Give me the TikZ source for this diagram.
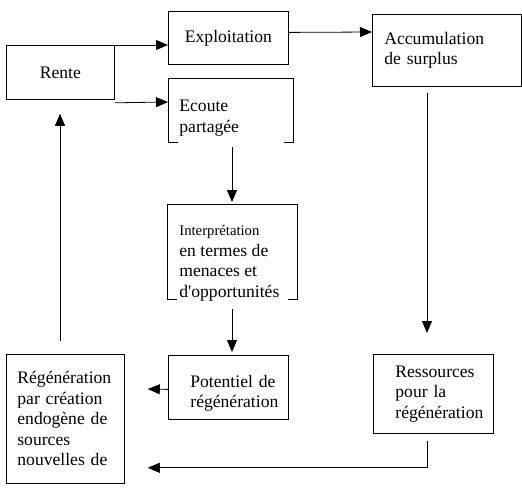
\documentclass[tikz,border=0pt]{standalone}
\usepackage{fontspec}
\setmainfont{Liberation Serif}
\usetikzlibrary{arrows.meta}
\hyphenpenalty=10000
\tikzset{
  box/.style    = {draw, anchor=north west, inner ysep=0pt, align=left},
  openbox/.style = {anchor=north west, inner sep=0pt},
  txt/.style    = {anchor=north west, inner sep=0pt, align=left}
}
\newcommand{\bracketbox}[1]{%
  \draw ([xshift=10pt]#1.south west) -- (#1.south west) -- (#1.north west)
    -- (#1.north east) -- (#1.south east) -- ([xshift=-10pt]#1.south east);}

\begin{document}
\begin{tikzpicture}[x=1pt, y=-1pt, line width=0.8pt, >={Triangle[length=12pt,width=10pt]},
  font=\fontsize{17.6}{20.5}\selectfont]
\useasboundingbox (0,0) rectangle (522,488);

% Top row
\node [box, align=center, minimum width=108pt, minimum height=54pt] (rente) at (6,45) {Rente};
\node [box, align=center, minimum width=120pt, minimum height=53pt] (exploit) at (168,11) {Exploitation};
\node [box, text width=125pt, inner xsep=12pt, minimum height=72pt] (accum) at (372,14) {Accumulation\\de surplus};

% Open boxes
\node [openbox, minimum width=125pt, minimum height=64pt] (ecoute) at (168,78) {};
\bracketbox{ecoute}
\node [txt] (ecoute-t) at ([xshift=11pt,yshift=-22pt]ecoute.north west) {Ecoute\\partagée};
\node [openbox, minimum width=130pt, minimum height=95pt] (interp) at (167,204) {};
\bracketbox{interp}
\node [txt] (interp-t) at ([xshift=12pt,yshift=-21pt]interp.north west)
  {{\fontsize{14.7}{17}\selectfont Interprétation}\\en termes de\\menaces et\\d\textquotesingle opportunités};

% Bottom row
\node [box, text width=96pt, inner xsep=11pt, minimum height=129pt] (regen) at (6,354)
  {Régénération\\par création\\endogène de\\sources\\nouvelles de};
\node [box, text width=76pt, inner xsep=22pt, minimum height=64pt] (potentiel) at (168,355)
  {\rule{0pt}{24pt}Potentiel~de\\régénération};
\node [box, text width=76pt, inner xsep=22pt, minimum height=79pt] (ressources) at (373,354)
  {Ressources\\pour~la\\régénération};

% Connections
\draw[->] (rente.north east) -- (rente.north east -| exploit.west);
\draw[->] ([yshift=-3pt]rente.south east) -- ([yshift=-24pt]ecoute.north west);
\draw[->] ([yshift=5.5pt]exploit.east) -- ([yshift=-18pt]accum.north west);
\draw[->] ([xshift=55pt,yshift=-6pt]accum.south west) -- ([xshift=54pt,yshift=21pt]ressources.north west);
\draw[->] ([xshift=64pt,yshift=-4pt]ecoute.south west) -- ([xshift=65pt,yshift=2pt]interp.north west);
\draw[->] ([xshift=65pt,yshift=-9pt]interp.south west) -- ([xshift=64pt,yshift=3pt]potentiel.north west);
\draw[->] ([yshift=-2pt]potentiel.west) -- ([xshift=23pt,yshift=-35pt]regen.north east);
\draw[->] ([xshift=54pt,yshift=-7pt]ressources.south west) |- ([xshift=23pt,yshift=16pt]regen.south east);
\draw[->] ([xshift=54pt,yshift=13pt]regen.north west) -- ([xshift=54pt,yshift=-14pt]rente.south west);

\end{tikzpicture}
\end{document}
